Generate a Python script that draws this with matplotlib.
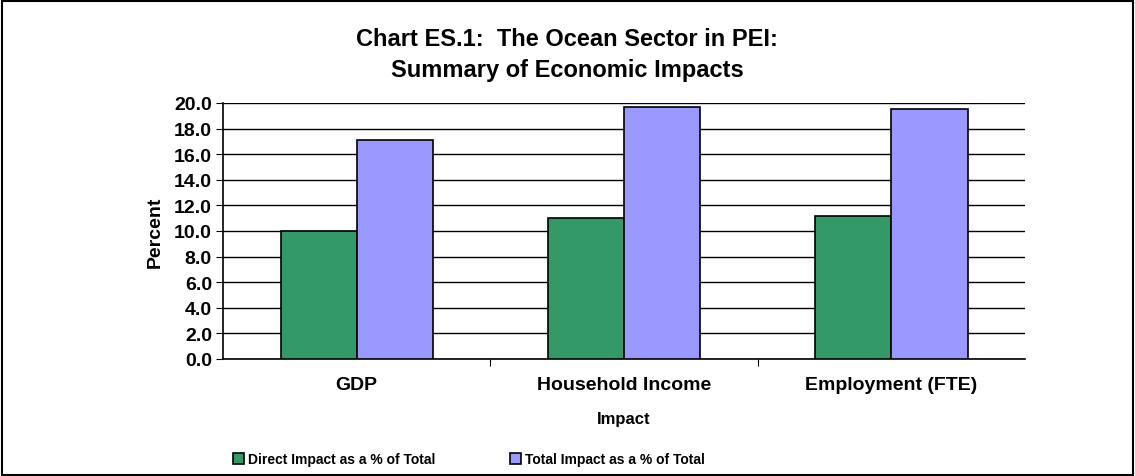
import numpy as np
import matplotlib.pyplot as plt
from matplotlib.patches import Rectangle

plt.rcParams['font.family'] = ['Liberation Sans', 'DejaVu Sans']
plt.rcParams['font.weight'] = 'bold'

impacts = ['GDP', 'Household Income', 'Employment (FTE)']
direct_pct = [10.0, 11.0, 11.2]
total_pct = [17.1, 19.7, 19.5]
series_names = ['Direct Impact as a % of Total', 'Total Impact as a % of Total']
y_ticks = np.arange(0, 20.1, 2.0)

fig = plt.figure(figsize=(11.35, 4.77), dpi=100)
ax = fig.add_axes([0.1965, 0.2453, 0.7066, 0.5367])

x = np.arange(len(impacts))
w = 0.285
ax.bar(x - w / 2, direct_pct, w, color='#339966', edgecolor='black', linewidth=1.2,
       label=series_names[0], zorder=3)
ax.bar(x + w / 2, total_pct, w, color='#9999ff', edgecolor='black', linewidth=1.2,
       label=series_names[1], zorder=3)

ax.set_xlim(-0.5, 2.5)
ax.set_ylim(0, 20)
ax.set_yticks(y_ticks)
ax.set_yticklabels([f'{v:.1f}' for v in y_ticks], fontsize=14, fontweight='bold')
ax.yaxis.grid(True, color='black', linewidth=1, zorder=0)
ax.set_axisbelow(True)

# category labels sit between the tick marks
ax.set_xticks([0.5, 1.5])
ax.set_xticklabels([])
ax.set_xticks(x, minor=True)
ax.set_xticklabels(impacts, minor=True, fontsize=14, fontweight='bold')
ax.tick_params(axis='x', which='minor', length=0, pad=12)
ax.tick_params(axis='x', which='major', length=5, direction='out')
ax.tick_params(axis='y', length=5, direction='out', pad=3)

for s in ['top', 'right']:
    ax.spines[s].set_visible(False)
ax.spines['left'].set_linewidth(1.2)
ax.spines['bottom'].set_linewidth(1.2)

ax.set_ylabel('Percent', fontsize=14, fontweight='bold', labelpad=7)
ax.set_xlabel('Impact', fontsize=12, fontweight='bold', labelpad=13)

fig.text(0.4995, 0.885, 'Chart ES.1:  The Ocean Sector in PEI:\nSummary of Economic Impacts',
         ha='center', va='center', fontsize=17, fontweight='bold', linespacing=1.45)

leg = fig.legend(loc='center', bbox_to_anchor=(0.413, 0.035), ncol=2, frameon=False,
                 prop={'size': 10, 'weight': 'bold'},
                 handlelength=0.8, handleheight=0.9, handletextpad=0.25,
                 columnspacing=5.4)

fig.patches.append(Rectangle((0.002, 0.003), 0.996, 0.993, transform=fig.transFigure,
                             fill=False, edgecolor='black', linewidth=1.5))

fig.savefig('out.png', dpi=100)
